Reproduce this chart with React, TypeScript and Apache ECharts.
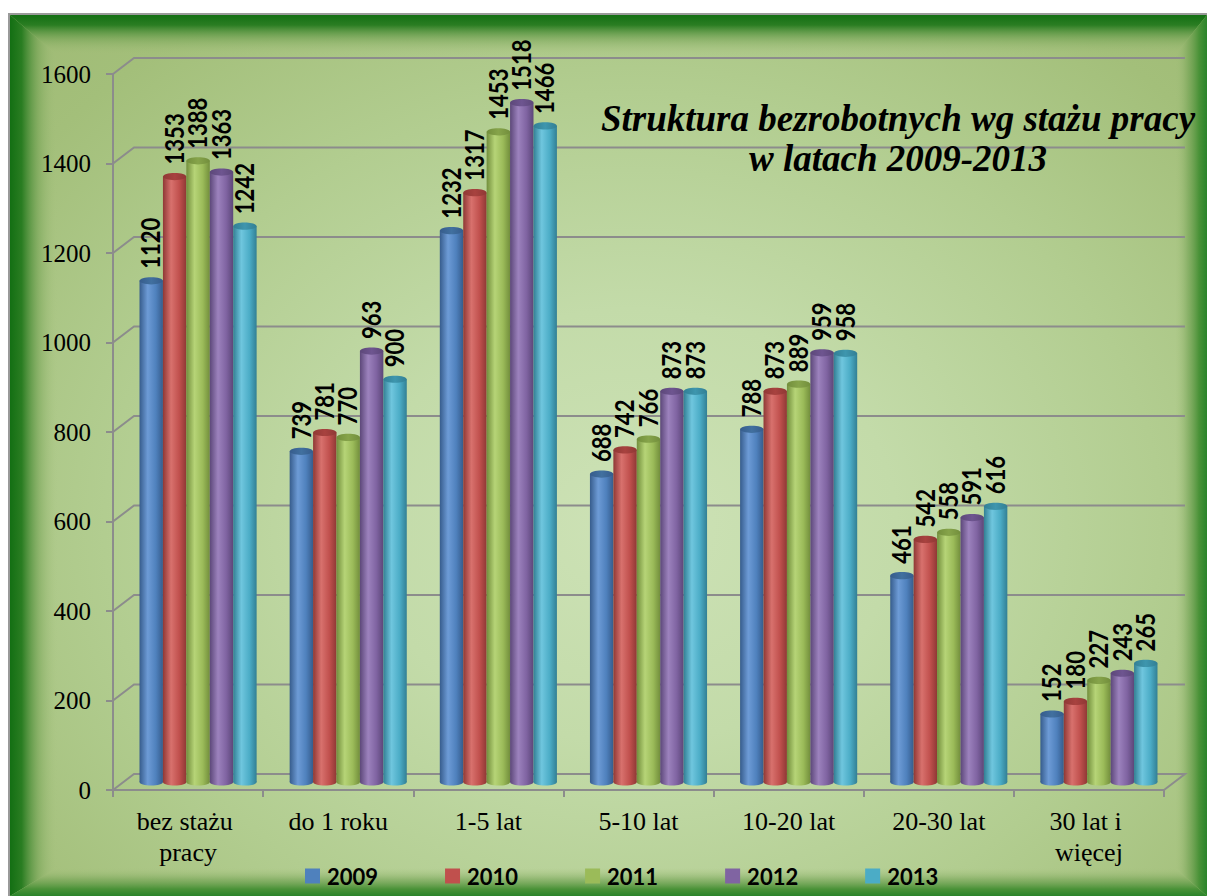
import React, { useEffect, useRef } from 'react';
import * as echarts from 'echarts';

const categories = ['bez stażu pracy', 'do 1 roku', '1-5 lat', '5-10 lat', '10-20 lat', '20-30 lat', '30 lat i więcej'];
const years = ['2009', '2010', '2011', '2012', '2013'];
const v2009 = [1120, 739, 1232, 688, 788, 461, 152];
const v2010 = [1353, 781, 1317, 742, 873, 542, 180];
const v2011 = [1388, 770, 1453, 766, 889, 558, 227];
const v2012 = [1363, 963, 1518, 873, 959, 591, 243];
const v2013 = [1242, 900, 1466, 873, 958, 616, 265];
const seriesValues = [v2009, v2010, v2011, v2012, v2013];
const yTicks = [0, 200, 400, 600, 800, 1000, 1200, 1400, 1600];
const titleText = 'Struktura bezrobotnych wg stażu pracy\nw latach 2009-2013';

const palette = [
  { base: '#4f81bd', light: '#6d9bd6', dark: '#365c8c', top: '#41709f' },
  { base: '#c0504d', light: '#d8716d', dark: '#8f3835', top: '#a8423f' },
  { base: '#9bbb59', light: '#b6d477', dark: '#728e3c', top: '#86a44a' },
  { base: '#8064a2', light: '#9c82bd', dark: '#5c4779', top: '#6e5590' },
  { base: '#4bacc6', light: '#6fc6de', dark: '#327f94', top: '#3e96ae' },
];

const GRID_LINE = '#8c8c8c';
const DEPTH_X = 21;
const DEPTH_Y = -16;
const SERIF = '"Liberation Serif", "Times New Roman", serif';

function barSeries(name: string, values: number[], sIdx: number) {
  const pal = palette[sIdx];
  const bodyFill = new echarts.graphic.LinearGradient(0, 0, 1, 0, [
    { offset: 0, color: pal.dark },
    { offset: 0.35, color: pal.light },
    { offset: 0.7, color: pal.base },
    { offset: 1, color: pal.dark },
  ]);
  const topFill = new echarts.graphic.LinearGradient(0, 0, 1, 0, [
    { offset: 0, color: pal.dark },
    { offset: 0.5, color: pal.top },
    { offset: 1, color: pal.dark },
  ]);
  return {
    type: 'custom',
    name,
    z: 3,
    itemStyle: { color: pal.base },
    encode: { x: 0, y: 1 },
    data: values.map((v, i) => [i, v]),
    renderItem: (params: any, api: any) => {
      const i = api.value(0);
      const v = api.value(1);
      const band = api.size([1, 0])[0];
      const c = api.coord([i, v]);
      const b = api.coord([i, 0]);
      const w = band * 0.156;
      const cx = c[0] + band * 0.0666 + (sIdx - 2) * w;
      const topY = c[1] + DEPTH_Y / 2;
      const baseY = b[1] + DEPTH_Y / 2;
      const ry = 3.6;
      return {
        type: 'group',
        children: [
          { type: 'ellipse', shape: { cx, cy: baseY, rx: w / 2, ry }, style: { fill: bodyFill } },
          { type: 'rect', shape: { x: cx - w / 2, y: topY, width: w, height: baseY - topY }, style: { fill: bodyFill } },
          { type: 'ellipse', shape: { cx, cy: topY, rx: w / 2, ry }, style: { fill: topFill } },
          {
            type: 'text',
            x: cx - 1,
            y: topY - 12,
            rotation: Math.PI / 2,
            scaleX: 0.85,
            style: {
              text: String(v),
              font: 'bold 26px Lato, "Open Sans", sans-serif',
              fill: '#000',
              align: 'left',
              verticalAlign: 'middle',
            },
          },
        ],
      };
    },
  };
}

const frameSeries = {
  type: 'custom',
  name: 'frame',
  z: 1,
  silent: true,
  encode: { x: 0, y: 1 },
  data: yTicks.map((t) => [0, t]),
  renderItem: (params: any, api: any) => {
    const t = api.value(1);
    const band = api.size([1, 0])[0];
    const left = api.coord([0, t]);
    const right = api.coord([categories.length - 1, t]);
    const xL = left[0] - band / 2;
    const xR = right[0] + band / 2;
    const y = left[1];
    const pts: number[][] = [
      [xL, y],
      [xL + DEPTH_X, y + DEPTH_Y],
      [xR + DEPTH_X, y + DEPTH_Y],
    ];
    if (t === 0) pts.push([xR, y]);
    return {
      type: 'polyline',
      shape: { points: pts },
      style: { stroke: GRID_LINE, lineWidth: 2, fill: null },
    };
  },
};

function bevel(points: number[][], x: number, y: number, x2: number, y2: number, outer: string, mid: string) {
  return {
    type: 'polygon',
    z: -10,
    silent: true,
    shape: { points },
    style: {
      fill: new echarts.graphic.LinearGradient(x, y, x2, y2, [
        { offset: 0, color: outer },
        { offset: 0.25, color: mid },
        { offset: 0.6, color: 'rgba(110,160,80,0.55)' },
        { offset: 1, color: 'rgba(165,192,124,0)' },
      ]),
    },
  };
}

export default function App() {
  const ref = useRef<HTMLDivElement>(null);
  useEffect(() => {
    if (!ref.current) return;
    const chart = echarts.init(ref.current, undefined, { renderer: 'svg' });
    const W = 1197;
    const H = 881;
    const BL = 47, BT = 40, BR = 32, BB = 28;
    chart.setOption({
      animation: false,
      graphic: [
        bevel([[0, 0], [BL, BT], [BL, H - BB], [0, H]], 0, 0, 1, 0, '#136f13', '#2a7d22'),
        bevel([[0, 0], [W, 0], [W - BR, BT], [BL, BT]], 0, 0, 0, 1, '#136f13', '#2a7d22'),
        bevel([[W, 0], [W, H], [W - BR, H - BB], [W - BR, BT]], 1, 0, 0, 0, '#2a842a', '#4a9238'),
        bevel([[0, H], [BL, H - BB], [W - BR, H - BB], [W, H]], 0, 1, 0, 0, '#2a842a', '#4a9238'),
        {
          type: 'text',
          x: 888,
          y: 123,
          z: 10,
          style: {
            text: titleText,
            font: 'italic bold 37px ' + SERIF,
            fill: '#000',
            align: 'center',
            verticalAlign: 'middle',
            lineHeight: 40,
          },
        },
      ],
      legend: {
        data: years,
        left: 290,
        top: 845,
        itemWidth: 15,
        itemHeight: 15,
        itemGap: 67,
        icon: 'rect',
        textStyle: {
          fontFamily: 'Lato, "Open Sans", sans-serif',
          fontWeight: 'bold',
          fontSize: 22,
          color: '#000',
          padding: [0, 0, 0, 2],
        },
      },
      grid: { left: 103, right: 43, top: 59, bottom: 106 },
      xAxis: {
        type: 'category',
        data: categories,
        axisLine: { lineStyle: { color: GRID_LINE, width: 2 } },
        axisTick: { show: true, length: 7, lineStyle: { color: GRID_LINE, width: 2 } },
        axisLabel: {
          interval: 0,
          margin: 16,
          color: '#000',
          fontFamily: SERIF,
          fontSize: 26,
          lineHeight: 31,
          width: 120,
          overflow: 'break',
        },
      },
      yAxis: {
        type: 'value',
        min: 0,
        max: 1600,
        interval: 200,
        axisLine: { show: true, lineStyle: { color: GRID_LINE, width: 2 } },
        axisTick: { show: true, length: 7, lineStyle: { color: GRID_LINE, width: 2 } },
        splitLine: { show: false },
        axisLabel: {
          margin: 22,
          color: '#000',
          fontFamily: SERIF,
          fontSize: 25,
          formatter: (v: number) => String(v),
        },
      },
      series: [frameSeries, ...years.map((y, i) => barSeries(y, seriesValues[i], i))],
    });
    return () => chart.dispose();
  }, []);
  return (
    <div
      style={{
        position: 'absolute',
        left: 8,
        top: 13,
        width: 1199,
        height: 883,
        boxSizing: 'border-box',
        borderTop: '2px solid #9a9a9a',
        borderLeft: '2px solid #9a9a9a',
        overflow: 'hidden',
      }}
    >
      <div
        ref={ref}
        style={{
          width: 1197,
          height: 881,
          background:
            'radial-gradient(ellipse at 52% 58%, #cde2b6 0%, #c3dba9 30%, #b2cd90 60%, #a3bf7a 85%, #9fba74 100%)',
        }}
      />
    </div>
  );
}
